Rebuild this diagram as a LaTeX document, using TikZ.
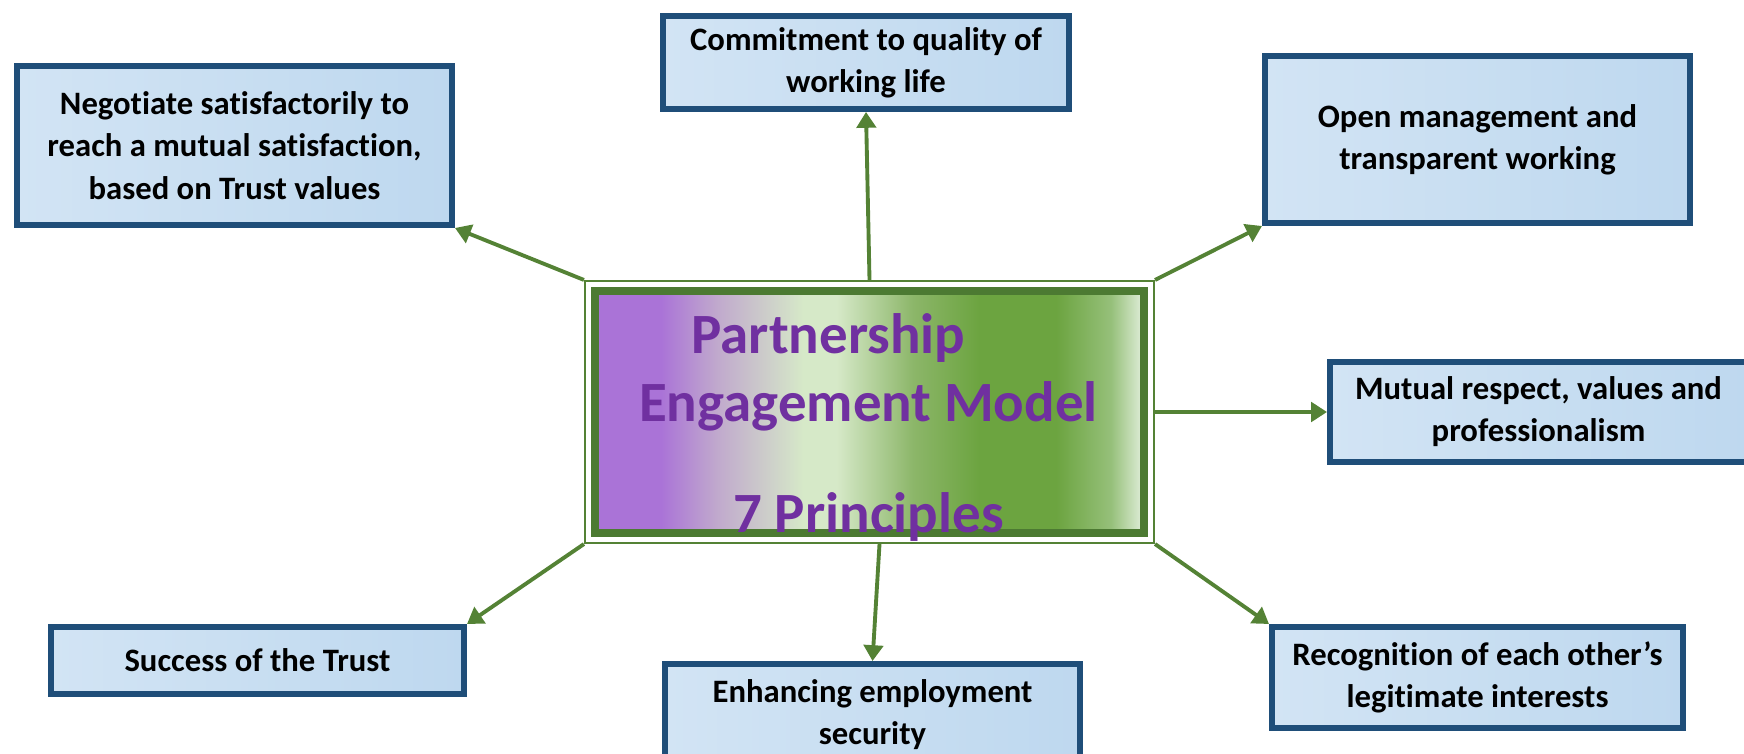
\documentclass[tikz,border=0pt]{standalone}
\usepackage{fontspec}
\setmainfont{Carlito}[Ligatures=NoCommon]
\definecolor{pemblue}{RGB}{31,78,121}
\definecolor{pemskyl}{RGB}{210,228,244}
\definecolor{pemskyr}{RGB}{190,216,239}
\definecolor{pemgreen}{RGB}{84,130,53}
\definecolor{pemdark}{RGB}{76,122,50}
\definecolor{pempurple}{RGB}{112,48,160}
\definecolor{shpurple}{RGB}{170,115,215}
\definecolor{shmauve}{RGB}{192,168,205}
\definecolor{shpale}{RGB}{214,233,200}
\definecolor{shmid}{RGB}{140,182,105}
\definecolor{shgreen}{RGB}{108,164,64}
\definecolor{shmid2}{RGB}{150,192,122}
\definecolor{shlight}{RGB}{226,239,220}
\usepackage{tikz}
\usetikzlibrary{shapes,arrows.meta,positioning,calc}
\pgfdeclarehorizontalshading{pemshade}{100bp}{color(0bp)=(shpurple); color(31bp)=(shpurple); color(36bp)=(shmauve); color(44bp)=(shpale); color(47bp)=(shpale); color(54bp)=(shmid); color(60bp)=(shgreen); color(67bp)=(shgreen); color(72bp)=(shmid2); color(75bp)=(shlight); color(100bp)=(shlight)}

\begin{document}
\begin{tikzpicture}[every node/.style={font=\bfseries},
    principle/.style={draw=pemblue, line width=1.7pt, left color=pemskyl, right color=pemskyr, align=center, inner sep=2pt, font=\fontsize{9.3}{12}\selectfont\bfseries},
    link/.style={draw=pemgreen, line width=1.1pt, -{Triangle[length=4.5pt,width=5.5pt]}}]
    \useasboundingbox (0,0) rectangle (17.44,7.53);

    % Centre
    \node[draw=pemdark, line width=2.3pt, shading=pemshade, minimum width=5.49cm, minimum height=2.42cm] (pem) at (8.695,3.41) {};
    \node[draw=pemgreen, line width=0.6pt, minimum width=5.69cm, minimum height=2.62cm] (pemframe) at (pem) {};
    \node[text=pempurple, font=\fontsize{16.2}{19.3}\selectfont\bfseries, align=center, inner sep=0pt] (pemtitle) at (8.685,3.255) {Partnership\hspace*{0.8cm}\\Engagement Model\\[12.5pt]7 Principles};

    % Seven principles
    \node[principle, minimum width=4.06cm, minimum height=0.93cm] (commit) at (8.66,6.905) {Commitment to quality of\\working life};
    \node[principle, minimum width=4.35cm, minimum height=1.59cm] (negot) at (2.345,6.075) {Negotiate satisfactorily to\\reach a mutual satisfaction,\\based on Trust values};
    \node[principle, minimum width=4.25cm, minimum height=1.67cm] (open) at (14.775,6.135) {Open management and\\transparent working};
    \node[principle, minimum width=4.17cm, minimum height=1.0cm] (mutual) at (15.385,3.41) {Mutual respect, values and\\professionalism};
    \node[principle, minimum width=4.13cm, minimum height=0.67cm] (success) at (2.575,0.925) {Success of the Trust};
    \node[principle, minimum width=4.15cm, minimum height=1.01cm] (enhance) at (8.725,0.385) {Enhancing employment\\security};
    \node[principle, minimum width=4.11cm, minimum height=1.01cm] (recog) at (14.775,0.755) {Recognition of each other’s\\legitimate interests};

    % Arrows
    \draw[link] (pemframe.north) -- (commit.south);
    \draw[link] (pemframe.north west) -- (negot.south east);
    \draw[link] (pemframe.north east) -- (open.south west);
    \draw[link] (pemframe.east) -- (mutual.west);
    \draw[link] (pemframe.south west) -- (success.north east);
    \draw[link] ([xshift=1mm]pemframe.south) -- (enhance.north);
    \draw[link] (pemframe.south east) -- (recog.north west);
\end{tikzpicture}
\end{document}
